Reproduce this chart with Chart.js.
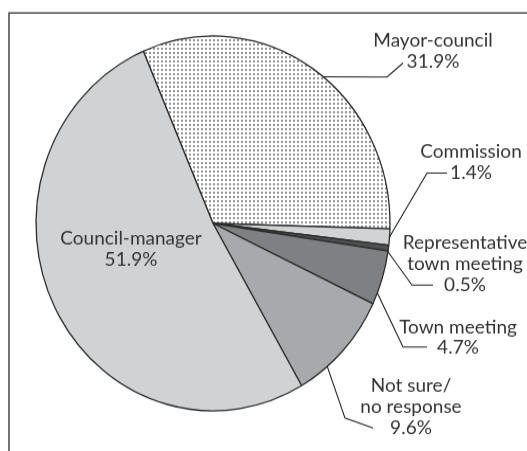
<!DOCTYPE html>
<html>
<head>
<meta charset="utf-8">
<script src="https://cdn.jsdelivr.net/npm/chart.js@4.4.0/dist/chart.umd.min.js"></script>
<style>
  html, body { margin: 0; padding: 0; background: #fff; overflow: hidden; }
  #chart { display: block; }
</style>
</head>
<body>
<!-- backing store is 426 tall, shown 451 tall: the printed pie is a little taller than wide -->
<canvas id="chart" width="527" height="426" style="width:527px;height:451px"></canvas>
<script>
const SY = 451 / 426;

const categories = ['Mayor-council', 'Commission', 'Representative town meeting',
  'Town meeting', 'Not sure/no response', 'Council-manager'];
const shares = [31.9, 1.4, 0.5, 4.7, 9.6, 51.9];
const labelLines = [
  ['Mayor-council'],
  ['Commission'],
  ['Representative', 'town meeting'],
  ['Town meeting'],
  ['Not sure/', 'no response'],
  ['Council-manager']
];
const sliceColors = [null, '#d2d3d5', '#505052', '#7f8083', '#a8a9ac', '#d1d2d4'];

// where each label sits (screen px) and where its leader line leaves the pie
const labelLayout = [
  { x: 433, y: 47, angle: 38.5, path: [[387, 77], [403, 63]] },
  { x: 471, y: 158, angle: 94.1, path: [[427, 173], [447, 173]] },
  { x: 465, y: 249, angle: 98.7, path: [[412, 285], [433, 285]] },
  { x: 458, y: 333, angle: 111.8, path: [[403, 347], [427, 347]] },
  { x: 411, y: 392, angle: 139.8, path: [[345, 418], [373, 428]] },
  { x: 131, y: 245, angle: null, path: [] }
];

function dotPattern() {
  const c = document.createElement('canvas');
  c.width = 4; c.height = 4;
  const g = c.getContext('2d');
  g.fillStyle = '#fff';
  g.fillRect(0, 0, 4, 4);
  g.fillStyle = '#969696';
  g.fillRect(1, 1, 2, 2);
  return g.createPattern(c, 'repeat');
}

const ctx = document.getElementById('chart').getContext('2d');
const colors = sliceColors.map(c => c || dotPattern());

const labelPlugin = {
  id: 'callouts',
  afterDraw(chart) {
    const g = chart.ctx;
    const arc = chart.getDatasetMeta(0).data[0];
    const cx = arc.x, cy = arc.y * SY, r = arc.outerRadius;

    g.save();
    g.scale(1, 1 / SY);

    // frame, cut off at right and bottom
    g.strokeStyle = '#444';
    g.lineWidth = 1.5;
    g.beginPath();
    g.moveTo(9, 451);
    g.lineTo(9, 13);
    g.lineTo(527, 13);
    g.stroke();

    g.strokeStyle = '#222';
    g.lineWidth = 1.1;
    g.fillStyle = '#333';
    g.font = '19px Lato';
    g.textAlign = 'center';
    g.textBaseline = 'alphabetic';

    labelLayout.forEach((lay, i) => {
      if (lay.angle !== null) {
        const a = lay.angle * Math.PI / 180;
        g.beginPath();
        g.moveTo(cx + r * Math.sin(a), cy - r * Math.cos(a) * SY);
        lay.path.forEach(p => g.lineTo(p[0], p[1]));
        g.stroke();
      }
      const lines = labelLines[i].concat([shares[i].toFixed(1) + '%']);
      lines.forEach((t, k) => g.fillText(t, lay.x, lay.y + k * 21));
    });
    g.restore();
  }
};

new Chart(ctx, {
  type: 'pie',
  data: {
    labels: categories,
    datasets: [{
      data: shares,
      backgroundColor: colors,
      borderColor: '#2b2b2b',
      borderWidth: 1.3
    }]
  },
  options: {
    responsive: false,
    animation: false,
    events: [],
    rotation: -23.2,
    radius: 177,
    layout: { padding: { left: 36, right: 137, top: 34, bottom: 38 } },
    plugins: {
      legend: { display: false },
      tooltip: { enabled: false }
    }
  },
  plugins: [labelPlugin]
});
</script>
</body>
</html>
